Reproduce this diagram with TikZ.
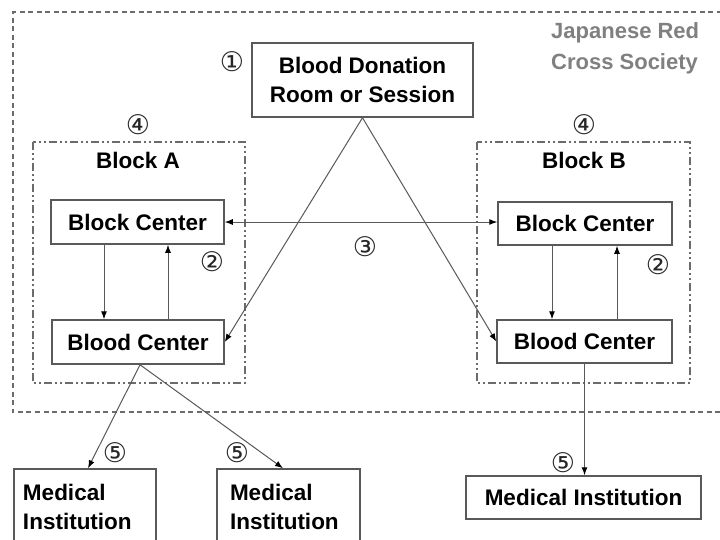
\documentclass[tikz,border=0pt]{standalone}
\usepackage{fontspec}
\setmainfont{Liberation Sans}
\newfontfamily\circfont{DejaVu Sans}
\usetikzlibrary{arrows.meta}
\definecolor{linegray}{gray}{0.35}
\definecolor{textgray}{gray}{0.5}
\definecolor{dashgray}{gray}{0.42}
\begin{document}
\begin{tikzpicture}[x=1pt,y=-1pt,
  box/.style={draw=linegray, line width=1.5pt, fill=white, inner sep=0pt,
    font=\fontsize{22.5}{29}\selectfont\bfseries, align=center},
  num/.style={font=\circfont\fontsize{27}{27}\selectfont, inner sep=0pt, text=black!85},
  arr/.style={draw=linegray, line width=1pt, -{Latex[length=8pt,width=6pt,color=black]}},
  darr/.style={draw=linegray, line width=1pt, {Latex[length=8pt,width=6pt,color=black]}-{Latex[length=8pt,width=6pt,color=black]}},
  blockframe/.style={draw=dashgray, line width=2pt, dash pattern=on 8pt off 3pt on 2pt off 3pt on 2pt off 3pt},
  outerframe/.style={draw=dashgray, line width=2.2pt, dash pattern=on 5pt off 3.5pt}
]
\useasboundingbox (0,0) rectangle (720,539);
\clip (0,0) rectangle (720,539);
\fill[white] (0,0) rectangle (720,539);

% outer frame
\draw[outerframe] (730,12) -- (13,12) -- (13,412) -- (730,412);
\node[anchor=north west, text=textgray, align=left, inner sep=0pt,
  font=\fontsize{22}{31}\selectfont\bfseries] (jrc) at (551,22) {Japanese Red\\Cross Society};

% block frames
\draw[blockframe] (33,142) rectangle (245,383);
\draw[blockframe] (477,142) rectangle (690,383);
\node[font=\fontsize{22.5}{27}\selectfont\bfseries, inner sep=0pt] (blkA) at (138,160) {Block A};
\node[font=\fontsize{22.5}{27}\selectfont\bfseries, inner sep=0pt] (blkB) at (584,160) {Block B};

% nodes
\node[box, minimum width=221pt, minimum height=74pt] (don) at (362.5,80) {Blood Donation\\Room or Session};
\node[box, minimum width=173pt, minimum height=44pt] (bcA) at (137.5,222) {Block Center};
\node[box, minimum width=172pt, minimum height=44pt] (bdA) at (138,342) {Blood Center};
\node[box, minimum width=174pt, minimum height=43pt] (bcB) at (585,223.5) {Block Center};
\node[box, minimum width=175pt, minimum height=43pt] (bdB) at (584.5,341.5) {Blood Center};
\node[box, minimum width=142pt, minimum height=76pt, text width=124pt, align=left] (med1) at (85,507) {Medical\\Institution};
\node[box, minimum width=143pt, minimum height=76pt, text width=117pt, align=left] (med2) at (288.5,507) {Medical\\Institution};
\node[box, minimum width=235pt, minimum height=43pt] (med3) at (583.5,497.5) {Medical Institution};

% numbers
\node[num] (n1) at (232,62) {①};
\node[num] (n4a) at (138,125) {④};
\node[num] (n4b) at (584,125) {④};
\node[num] (n2a) at (212,262) {②};
\node[num] (n2b) at (658,265) {②};
\node[num] (n3) at (365,247) {③};
\node[num] (n5a) at (115,453) {⑤};
\node[num] (n5b) at (237,453) {⑤};
\node[num] (n5c) at (563,463) {⑤};

% helper coordinates
\coordinate (xA1) at (104,0);
\coordinate (xA2) at (168,0);
\coordinate (xB1) at (552,0);
\coordinate (xB2) at (617,0);
\coordinate (srcA) at (140,0);
\coordinate (t1) at (88,0);
\coordinate (t2) at (283,0);

% connectors
\draw[arr] (bcA.south -| xA1) -- (bdA.north -| xA1);
\draw[arr] (bdA.north -| xA2) -- (bcA.south -| xA2);
\draw[arr] (bcB.south -| xB1) -- (bdB.north -| xB1);
\draw[arr] (bdB.north -| xB2) -- (bcB.south -| xB2);
\draw[darr] (bcA.east) -- (bcA.east -| bcB.west);
\draw[arr] (don.south) -- (bdA.east);
\draw[arr] (don.south) -- (bdB.west);
\draw[arr] (bdA.south -| srcA) -- (med1.north -| t1);
\draw[arr] (bdA.south -| srcA) -- (med2.north -| t2);
\draw[arr] (bdB.south) -- (bdB.south |- med3.north);
\end{tikzpicture}
\end{document}
